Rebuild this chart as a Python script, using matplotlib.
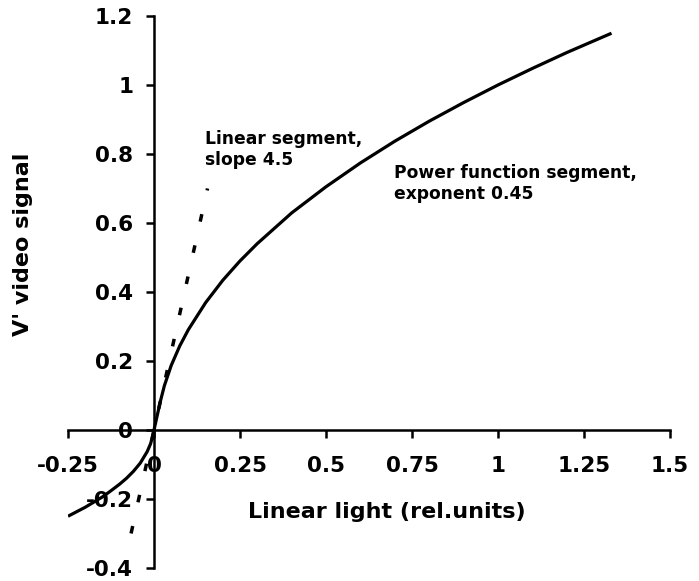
import numpy as np
import matplotlib
matplotlib.use('Agg')
import matplotlib.pyplot as plt

# transfer curve: linear light -> V' video signal
light = [-0.25, -0.225, -0.2, -0.175, -0.15, -0.125, -0.1, -0.08, -0.06, -0.04,
         -0.02, -0.01, -0.0045, 0.0, 0.018, 0.03, 0.05, 0.075, 0.1, 0.15, 0.2,
         0.25, 0.3, 0.4, 0.5, 0.6, 0.7, 0.8, 0.9, 1.0, 1.1, 1.2, 1.33]
signal = [-0.25, -0.237, -0.224, -0.209, -0.194, -0.176, -0.157, -0.140, -0.120,
          -0.096, -0.063, -0.040, -0.020, 0.0, 0.081, 0.128, 0.187, 0.244, 0.291,
          0.369, 0.434, 0.490, 0.540, 0.629, 0.705, 0.774, 0.837, 0.895, 0.949,
          1.000, 1.048, 1.094, 1.150]

# the slope 4.5 line near black
lin_light = [-0.0667, 0.1556]
lin_signal = [-0.3, 0.7]

xticks = [-0.25, 0, 0.25, 0.5, 0.75, 1, 1.25, 1.5]
xticklabels = ['-0.25', '0', '0.25', '0.5', '0.75', '1', '1.25', '1.5']
yticks = [-0.4, -0.2, 0, 0.2, 0.4, 0.6, 0.8, 1, 1.2]
yticklabels = ['-0.4', '-0.2', '0', '0.2', '0.4', '0.6', '0.8', '1', '1.2']

fig = plt.figure(figsize=(6.99, 5.81), dpi=100)
ax = fig.add_axes([0.0973, 0.0224, 0.8612, 0.9501])

ax.plot(light, signal, color='black', lw=2.3, solid_capstyle='butt', zorder=3)
ax.plot(lin_light, lin_signal, color='black', lw=2.5,
        linestyle=(0, (2.2, 7.0)), zorder=3)

ax.set_xlim(-0.25, 1.5)
ax.set_ylim(-0.4, 1.2)

for side in ['top', 'right']:
    ax.spines[side].set_visible(False)
ax.spines['left'].set_position(('data', 0))
ax.spines['bottom'].set_position(('data', 0))
for side in ['left', 'bottom']:
    ax.spines[side].set_linewidth(1.8)

ax.set_xticks(xticks)
ax.set_xticklabels(xticklabels, fontsize=15.5, fontweight='bold')
ax.set_yticks(yticks)
ax.set_yticklabels(yticklabels, fontsize=15.5, fontweight='bold')
ax.tick_params(axis='x', direction='out', length=6, width=1.8, pad=13)
ax.tick_params(axis='y', direction='out', length=6, width=1.8, pad=9)

ax.set_xlabel('Linear light (rel.units)', fontsize=16, fontweight='bold')
ax.xaxis.set_label_coords(0.53, 0.12)
ax.set_ylabel("V' video signal", fontsize=16, fontweight='bold')
ax.yaxis.set_label_coords(-0.058, 0.586)

ax.text(0.148, 0.87, 'Linear segment,\nslope 4.5', fontsize=12.3,
        fontweight='bold', va='top', ha='left', linespacing=1.2)
ax.text(0.697, 0.77, 'Power function segment,\nexponent 0.45', fontsize=12.3,
        fontweight='bold', va='top', ha='left', linespacing=1.2)

fig.savefig('out.png', dpi=100)
